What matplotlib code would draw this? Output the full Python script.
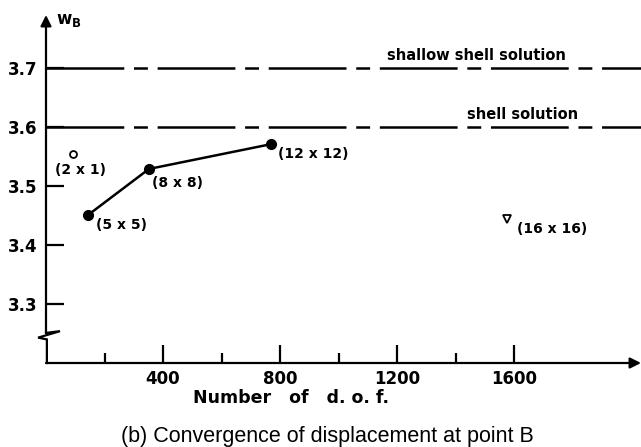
import matplotlib.pyplot as plt
from matplotlib.ticker import FixedLocator

plt.rcParams['lines.scale_dashes'] = False

# converged FE results, w_B vs number of d.o.f.
mesh_labels = ['(5 x 5)', '(8 x 8)', '(12 x 12)']
dof = [144, 352, 769]
w_b = [3.451, 3.529, 3.571]

# separate results
coarse_label = '(2 x 1)'
coarse_dof = 92
coarse_w = 3.555
fine_label = '(16 x 16)'
fine_dof = 1576
fine_w = 3.444

# reference solutions
ref_names = ['shallow shell solution', 'shell solution']
ref_values = [3.70, 3.60]

xticks = [400, 800, 1200, 1600]
xminor = [200, 600, 1000, 1400]
yticks = [3.3, 3.4, 3.5, 3.6, 3.7]

xmax = 2034
ymin, ymax = 3.2, 3.79

fig = plt.figure(figsize=(6.41, 4.47), dpi=100)
ax = fig.add_axes([46 / 641, 84 / 447, 595 / 641, 348 / 447])
ax.set_xlim(0, xmax)
ax.set_ylim(ymin, ymax)
for s in ax.spines.values():
    s.set_visible(False)

lw = 1.6
font = dict(family='DejaVu Sans', fontweight='bold')

# axes with arrows
ax.annotate('', xy=(xmax, ymin), xytext=(0, ymin),
            arrowprops=dict(arrowstyle='-|>', lw=lw, color='k', mutation_scale=16,
                            shrinkA=0, shrinkB=0), annotation_clip=False)
# y axis with break
ax.plot([0, 0, 48, -27, 3, 3], [3.251, 3.251, 3.254, 3.243, 3.240, ymin],
        color='k', lw=lw, clip_on=False, solid_joinstyle='miter')
ax.annotate('', xy=(0, ymax), xytext=(0, 3.251),
            arrowprops=dict(arrowstyle='-|>', lw=lw, color='k', mutation_scale=16,
                            shrinkA=0, shrinkB=0), annotation_clip=False)

# ticks
ax.xaxis.set_major_locator(FixedLocator(xticks))
ax.xaxis.set_minor_locator(FixedLocator(xminor))
ax.yaxis.set_major_locator(FixedLocator(yticks))
ax.tick_params(axis='x', which='major', direction='in', length=13, width=lw, pad=5)
ax.tick_params(axis='x', which='minor', direction='in', length=7, width=lw)
ax.tick_params(axis='y', which='major', direction='in', length=13, width=lw, pad=6)
ax.set_xticklabels([str(v) for v in xticks], fontsize=12, **font)
ax.set_yticklabels([f'{v:.1f}' for v in yticks], fontsize=12, **font)

# reference lines
for name, val in zip(ref_names, ref_values):
    ax.plot([0, xmax], [val, val], color='k', lw=1.8,
            linestyle=(0, (56, 7, 10, 7)), clip_on=False)
ax.text(1165, ref_values[0] + 0.008, ref_names[0], fontsize=10.5, ha='left', va='bottom', **font)
ax.text(1438, ref_values[1] + 0.008, ref_names[1], fontsize=10.5, ha='left', va='bottom', **font)

# FE convergence curve
ax.plot(dof, w_b, color='k', lw=1.8, marker='o', markersize=7, clip_on=False)
offsets = [(6, -7), (2, -10), (5, -7)]
for lab, x, y, off in zip(mesh_labels, dof, w_b, offsets):
    ax.annotate(lab, xy=(x, y), xytext=off, textcoords='offset points',
                ha='left', va='center', fontsize=10, **font)

ax.plot([coarse_dof], [coarse_w], marker='o', markersize=5, mfc='white',
        mec='k', mew=1.3, linestyle='none')
ax.annotate(coarse_label, xy=(coarse_dof, coarse_w), xytext=(-13, -12),
            textcoords='offset points', ha='left', va='center', fontsize=10, **font)

ax.plot([fine_dof], [fine_w], marker='v', markersize=6, mfc='white',
        mec='k', mew=1.3, linestyle='none')
ax.annotate(fine_label, xy=(fine_dof, fine_w), xytext=(7, -7),
            textcoords='offset points', ha='left', va='center', fontsize=10, **font)

# axis labels
ax.text(0.016, 0.986, r'w$_\mathregular{B}$', transform=ax.transAxes,
        fontsize=12, ha='left', va='center', **font)
fig.text(291 / 641, 1 - 398 / 447, 'Number   of   d. o. f.', fontsize=12.5,
         ha='center', va='center', **font)
fig.text(327 / 641, 1 - 442 / 447, '(b) Convergence of displacement at point B',
         fontsize=15.5, family='Liberation Sans', ha='center', va='baseline')

fig.savefig('out.png', dpi=100)
